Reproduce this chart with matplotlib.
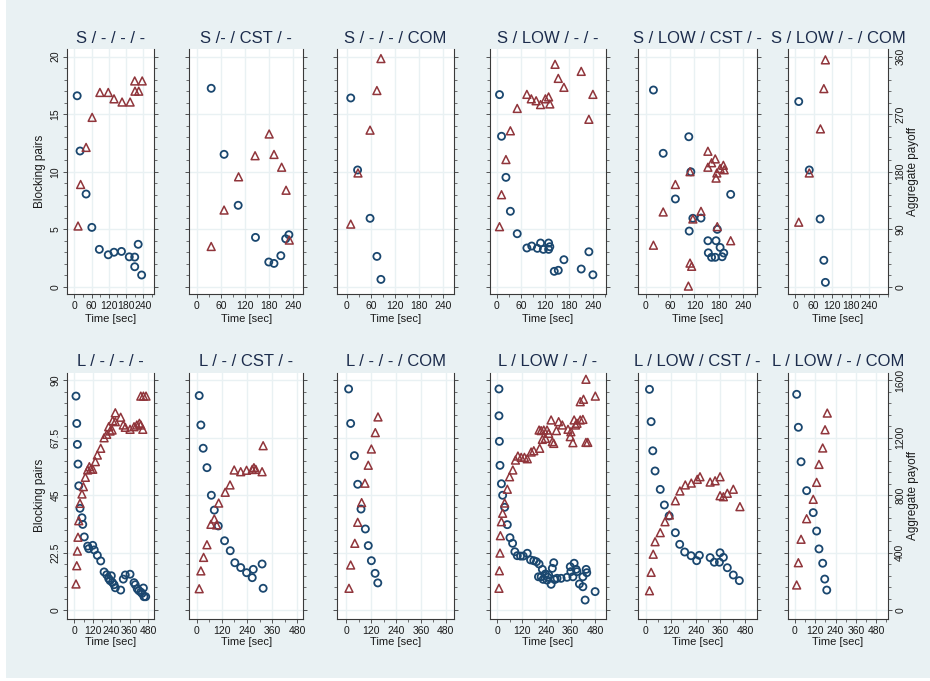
import matplotlib
matplotlib.use('Agg')
import matplotlib.pyplot as plt
from matplotlib.patches import Rectangle
from matplotlib.ticker import MultipleLocator

plt.rcParams['font.family'] = ['Liberation Sans', 'DejaVu Sans']

# ---------------- data ----------------
titles = ["S / - / - / -", "S /- / CST / -", "S / - / - / COM", "S / LOW / - / -",
          "S / LOW / CST / -", "S / LOW / - / COM",
          "L / - / - / -", "L / - / CST / -", "L / - / - / COM", "L / LOW / - / -",
          "L / LOW / CST / -", "L / LOW / - / COM"]

# S / - / - / -
t_bp_1 = [10, 20, 41, 61, 87, 118, 138, 164, 191, 210, 210, 222, 234]
bp_1 = [16.6, 11.8, 8.06, 5.16, 3.25, 2.78, 3.0, 3.07, 2.6, 2.58, 1.74, 3.69, 1.02]
t_pay_1 = [13, 22, 41, 62, 89, 118, 138, 166, 194, 210, 211, 224, 236]
pay_1 = [95, 160, 218, 265, 304, 304, 294, 289, 289, 322, 306, 306, 322]

# S /- / CST / -
t_bp_2 = [36, 68, 103, 146, 179, 192, 209, 221, 229]
bp_2 = [17.25, 11.51, 7.08, 4.29, 2.15, 2.03, 2.70, 4.17, 4.52]
t_pay_2 = [36, 68, 104, 145, 180, 192, 211, 222, 230]
pay_2 = [63, 120, 172, 205, 239, 207, 187, 151, 73]

# S / - / - / COM
t_bp_3 = [10, 27, 58, 75, 85]
bp_3 = [16.41, 10.15, 5.95, 2.64, 0.64]
t_pay_3 = [10, 28, 58, 75, 85]
pay_3 = [98, 178, 245, 307, 357]

# S / LOW / - / -
t_bp_4 = [7, 12, 23, 34, 51, 75, 87, 101, 109, 116, 129, 129, 132, 143, 153, 167, 210, 229, 239]
bp_4 = [16.7, 13.08, 9.51, 6.56, 4.61, 3.37, 3.54, 3.34, 3.80, 3.25, 3.80, 3.25, 3.48,
        1.34, 1.43, 2.35, 1.54, 3.04, 1.04]
t_pay_4 = [7, 12, 23, 34, 51, 75, 86, 98, 109, 121, 129, 132, 145, 153, 167, 210, 229, 239]
pay_4 = [94, 144, 199, 244, 279, 301, 294, 291, 285, 294, 297, 286, 348, 326, 312, 337, 262, 301]

# S / LOW / CST / -
t_bp_5 = [19, 43, 106, 73, 111, 107, 116, 136, 209, 153, 173, 176, 154, 183, 192, 162, 171, 188]
bp_5 = [17.1, 11.6, 13.04, 7.63, 9.99, 4.84, 5.95, 5.97, 8.03, 4.0, 4.0, 4.99, 2.95, 3.42,
        2.93, 2.56, 2.56, 2.61]
t_pay_5 = [19, 43, 73, 109, 153, 162, 171, 153, 175, 173, 183, 191, 193, 116, 136, 176,
           209, 109, 113, 105]
pay_5 = [65, 117, 160, 180, 212, 194, 200, 187, 178, 170, 185, 190, 183, 106, 118, 94,
         72, 37, 32, 1]

# S / LOW / - / COM
t_bp_6 = [12, 46, 81, 93, 98]
bp_6 = [16.1, 10.15, 5.89, 2.30, 0.38]
t_pay_6 = [12, 46, 82, 93, 98]
pay_6 = [101, 178, 247, 310, 355]

# L / - / - / -
t_bp_7 = [11, 16, 20, 24, 29, 37, 50, 55, 65, 87, 94, 120, 130, 150, 172, 194, 211, 224,
          233, 241, 248, 259, 267, 302, 319, 332, 363, 389, 397, 410, 420, 433, 441, 450,
          454, 465]
bp_7 = [83.7, 73.0, 64.8, 57.1, 48.6, 39.8, 36.1, 33.5, 28.6, 25.0, 24.0, 25.3, 23.5, 21.4,
        19.2, 14.9, 13.8, 12.3, 11.5, 13.4, 10.8, 9.9, 8.7, 7.8, 12.1, 13.7, 14.0, 10.7,
        9.9, 8.3, 7.6, 7.0, 6.5, 8.6, 5.2, 5.2]
t_pay_7 = [11, 16, 20, 24, 29, 37, 50, 59, 72, 87, 98, 107, 120, 137, 150, 172, 194, 211,
           224, 233, 246, 250, 267, 267, 302, 319, 332, 363, 389, 407, 424, 433, 446, 433,
           450, 467]
pay_7 = [181, 308, 410, 506, 621, 742, 807, 858, 923, 974, 997, 979, 979, 1032, 1078, 1125,
         1198, 1222, 1275, 1245, 1252, 1317, 1372, 1310, 1341, 1287, 1271, 1257, 1275, 1287,
         1299, 1287, 1257, 1488, 1488, 1488]

# L / - / CST / -
t_bp_8 = [12, 20, 31, 49, 70, 84, 103, 133, 160, 182, 210, 238, 265, 270, 312, 317]
bp_8 = [83.9, 72.4, 63.3, 55.7, 44.9, 39.1, 32.9, 27.1, 23.2, 18.5, 16.6, 14.6, 12.65,
        15.9, 18.0, 8.5]
t_pay_8 = [12, 20, 33, 49, 68, 84, 95, 105, 136, 159, 179, 210, 238, 265, 273, 282, 312, 317]
pay_8 = [148, 272, 366, 454, 596, 633, 592, 744, 819, 870, 974, 962, 972, 978, 990, 978,
         962, 1143]

# L / - / - / COM
t_bp_9 = [11, 21, 39, 55, 71, 92, 106, 121, 139, 152]
bp_9 = [86.5, 73.0, 60.4, 49.2, 39.5, 31.7, 25.2, 19.3, 14.35, 10.6]
t_pay_9 = [13, 21, 41, 55, 74, 90, 106, 121, 140, 153]
pay_9 = [151, 313, 464, 610, 747, 882, 1007, 1120, 1234, 1343]

# L / LOW / - / -
t_bp_10 = [8, 8, 10, 13, 20, 26, 36, 49, 62, 75, 86, 98, 114, 127, 147, 163, 179, 192, 205,
           202, 215, 221, 225, 236, 244, 252, 264, 270, 277, 280, 293, 313, 342, 358, 361,
           371, 377, 387, 391, 403, 420, 420, 431, 436, 439, 480, 283, 248]
bp_10 = [86.5, 76.0, 66.0, 56.6, 49.4, 44.9, 40.2, 33.4, 28.3, 26.1, 22.8, 21.25, 21.1,
         21.1, 22.2, 19.6, 19.3, 18.9, 18.0, 13.0, 13.0, 15.9, 12.0, 14.1, 11.7, 13.7, 10.05,
         16.3, 18.5, 12.0, 12.4, 12.4, 12.8, 16.95, 15.0, 13.0, 18.3, 15.9, 15.0, 10.2, 13.0,
         9.1, 3.9, 15.9, 14.6, 7.2, 12.0, 12.8]
t_pay_10 = [8, 10, 13, 15, 20, 26, 36, 49, 60, 76, 89, 101, 117, 133, 147, 166, 179, 208,
            205, 215, 221, 228, 236, 244, 252, 264, 270, 277, 290, 301, 319, 347, 358, 361,
            371, 377, 384, 391, 407, 420, 407, 423, 435, 435, 444, 481]
pay_10 = [151, 273, 396, 517, 614, 673, 744, 840, 927, 974, 1043, 1071, 1062, 1062, 1052,
          1099, 1108, 1125, 1252, 1248, 1187, 1252, 1194, 1252, 1229, 1322, 1171, 1159, 1248,
          1310, 1287, 1257, 1206, 1240, 1164, 1322, 1287, 1299, 1322, 1326, 1449, 1466,
          1605, 1166, 1166, 1488]

# L / LOW / CST / -
t_bp_11 = [17, 25, 33, 44, 69, 89, 112, 142, 163, 187, 218, 245, 258, 310, 330, 355, 358,
           374, 393, 422, 451]
bp_11 = [86.35, 73.7, 62.3, 54.4, 47.2, 41.1, 36.8, 30.25, 25.7, 22.7, 21.25, 19.3, 21.4,
         20.5, 18.7, 18.7, 22.4, 20.6, 16.55, 13.7, 11.5]
t_pay_11 = [17, 25, 35, 44, 69, 92, 113, 142, 164, 190, 219, 248, 261, 310, 334, 358, 358,
            374, 393, 422, 454]
pay_11 = [134, 262, 388, 475, 538, 614, 661, 760, 828, 870, 883, 909, 927, 890, 899, 927,
          795, 788, 812, 840, 719]

# L / LOW / - / COM
t_bp_12 = [10, 20, 36, 69, 108, 128, 142, 164, 176, 188]
bp_12 = [84.4, 71.5, 58.0, 46.7, 38.1, 30.9, 23.9, 18.3, 12.1, 7.8]
t_pay_12 = [10, 20, 36, 69, 108, 128, 142, 164, 178, 191]
pay_12 = [174, 329, 492, 635, 770, 888, 1013, 1127, 1254, 1370]

panels = [(t_bp_1, bp_1, t_pay_1, pay_1), (t_bp_2, bp_2, t_pay_2, pay_2),
          (t_bp_3, bp_3, t_pay_3, pay_3), (t_bp_4, bp_4, t_pay_4, pay_4),
          (t_bp_5, bp_5, t_pay_5, pay_5), (t_bp_6, bp_6, t_pay_6, pay_6),
          (t_bp_7, bp_7, t_pay_7, pay_7), (t_bp_8, bp_8, t_pay_8, pay_8),
          (t_bp_9, bp_9, t_pay_9, pay_9), (t_bp_10, bp_10, t_pay_10, pay_10),
          (t_bp_11, bp_11, t_pay_11, pay_11), (t_bp_12, bp_12, t_pay_12, pay_12)]

# axis tick definitions per row
x_ticks_rows = [[0, 60, 120, 180, 240], [0, 120, 240, 360, 480]]
bp_ticks_rows = [[0, 5, 10, 15, 20], [0, 22.5, 45, 67.5, 90]]
bp_ticklabels_rows = [["0", "5", "10", "15", "20"], ["0", "22.5", "45", "67.5", "90"]]
pay_ticks_rows = [[0, 90, 180, 270, 360], [0, 400, 800, 1200, 1600]]

# ---------------- layout / style ----------------
W, H = 930, 681
BG = '#e9f1f3'
NAVY = '#1a476f'
MAROON = '#90353b'
TITLE_C = '#1c2c4c'
AXC = '#3a3a3a'

col_px = [(67.3, 154), (189.3, 303.3), (337.3, 454), (490, 605.7), (638.3, 756.7), (787.7, 888.3)]
row_px = [(49.3, 294), (372.7, 619)]
xlims = [[(-24.3, 277), (-18.4, 264.8), (-23.4, 266.6), (-16.6, 270.8), (-18.2, 273), (-23.6, 301)],
         [(-45.6, 519), (-35.2, 508.6), (-43.5, 520), (-36, 532), (-37, 535), (-43, 552)]]
bp_lims = [(-0.63, 20.64), (-3.52, 92.86)]
pay_scale = [18.0, 1600 / 90.0]
x_minor_step = [30, 60]
bp_minor_step = [1, 4.5]
pay_minor_step = [18, 80]

fig = plt.figure(figsize=(W / 100, H / 100), dpi=100, facecolor='white')
fig.patches.append(Rectangle((6 / W, 3 / H), (W - 6) / W, (H - 3) / H,
                             transform=fig.transFigure, facecolor=BG,
                             edgecolor='none', zorder=-10))

for idx, (tb, b, tp, p) in enumerate(panels):
    r, c = divmod(idx, 6)
    x0, x1 = col_px[c]
    y0, y1 = row_px[r]
    ax = fig.add_axes([x0 / W, 1 - y1 / H, (x1 - x0) / W, (y1 - y0) / H])
    ax.set_facecolor('white')
    ax2 = ax.twinx()

    ax.scatter(tb, b, s=26, facecolors='none', edgecolors=NAVY, linewidths=1.3, zorder=3)
    ax2.scatter(tp, p, marker='^', s=32, facecolors='none', edgecolors=MAROON,
                linewidths=1.1, zorder=3)

    ax.set_xlim(*xlims[r][c])
    ax.set_ylim(*bp_lims[r])
    ax2.set_ylim(bp_lims[r][0] * pay_scale[r], bp_lims[r][1] * pay_scale[r])

    ax.set_xticks(x_ticks_rows[r])
    ax.xaxis.set_minor_locator(MultipleLocator(x_minor_step[r]))
    ax.set_yticks(bp_ticks_rows[r])
    ax.set_yticklabels(bp_ticklabels_rows[r])
    ax.yaxis.set_minor_locator(MultipleLocator(bp_minor_step[r]))
    ax2.set_yticks(pay_ticks_rows[r])
    ax2.yaxis.set_minor_locator(MultipleLocator(pay_minor_step[r]))

    ax.grid(True, which='major', color=BG, linewidth=1.0)
    ax.set_axisbelow(True)

    for a in (ax, ax2):
        a.spines['top'].set_visible(False)
    ax.spines['right'].set_visible(False)
    ax2.spines['left'].set_visible(False)
    ax2.spines['bottom'].set_visible(False)
    for s in ('left', 'bottom'):
        ax.spines[s].set_color(AXC)
        ax.spines[s].set_linewidth(0.8)
    ax2.spines['right'].set_color(AXC)
    ax2.spines['right'].set_linewidth(0.8)

    ax.tick_params(axis='both', which='major', direction='out', length=3, width=0.6,
                   color=AXC, labelsize=7.5, labelcolor='#1a1a1a', pad=2)
    ax.tick_params(axis='both', which='minor', direction='out', length=2, width=0.5, color=AXC)
    ax.tick_params(axis='y', which='both', left=True, right=False, labelleft=(c == 0))
    ax.tick_params(axis='y', labelrotation=90)
    ax2.tick_params(axis='y', which='major', direction='out', length=3, width=0.6,
                    color=AXC, labelsize=7.5, labelcolor='#1a1a1a', pad=2,
                    labelrotation=90, labelright=(c == 5))
    ax2.tick_params(axis='y', which='minor', direction='out', length=2, width=0.5, color=AXC)
    for lbl in ax.get_yticklabels() + ax2.get_yticklabels():
        lbl.set_va('center')

    xc = (x0 + x1) / 2
    title_y = [38.3, 361.7][r]
    fig.text(xc / W, 1 - title_y / H, titles[idx], ha='center', va='center',
             fontsize=12, color=TITLE_C)
    xl_y = [319.3, 641.7][r]
    fig.text(xc / W, 1 - xl_y / H, "Time [sec]", ha='center', va='center',
             fontsize=8, color='#1a1a1a')

    if c == 0:
        fig.text(40 / W, 1 - ((y0 + y1) / 2) / H, "Blocking pairs", rotation=90,
                 ha='center', va='center', fontsize=8.5, color='#1a1a1a')
    if c == 5:
        fig.text(912.7 / W, 1 - ((y0 + y1) / 2) / H, "Aggregate payoff", rotation=90,
                 ha='center', va='center', fontsize=8.5, color='#1a1a1a')

fig.savefig('out.png', dpi=100, facecolor='white')
